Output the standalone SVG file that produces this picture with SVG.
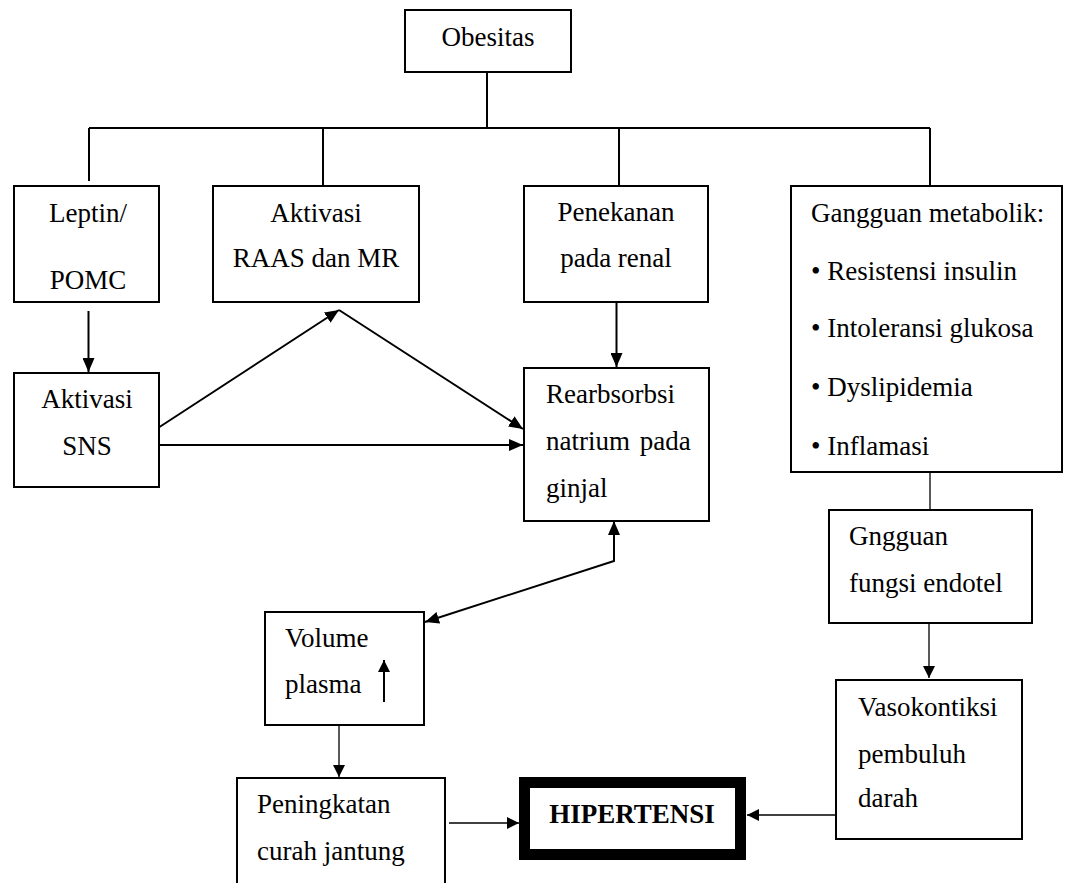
<svg xmlns="http://www.w3.org/2000/svg" width="1065" height="883" viewBox="0 0 1065 883" font-family="'Liberation Serif', serif">
<style>
  .box{fill:#fff;stroke:#000;stroke-width:2}
  .t{font-family:'Liberation Serif', serif;font-size:27px;fill:#000}
  .c{text-anchor:middle}
  .b{font-weight:bold}
  .ln{fill:none;stroke:#000;stroke-width:2}
  .thin{fill:none;stroke:#000;stroke-width:1.3}
</style>
<defs>
  <marker id="ah" markerWidth="14" markerHeight="12" refX="14" refY="6" orient="auto" markerUnits="userSpaceOnUse">
    <path d="M0,0 L14,6 L0,12 z" fill="#000"/>
  </marker>
  <marker id="ahb" markerWidth="14" markerHeight="12" refX="14" refY="6" orient="auto-start-reverse" markerUnits="userSpaceOnUse">
    <path d="M0,0 L14,6 L0,12 z" fill="#000"/>
  </marker>
  <marker id="ahs" markerWidth="12" markerHeight="12" refX="12" refY="6" orient="auto" markerUnits="userSpaceOnUse">
    <path d="M0,0 L12,6 L0,12 z" fill="#000"/>
  </marker>
</defs>
<rect width="1065" height="883" fill="#fff"/>

<g id="connectors">
  <path class="ln" d="M487,72 V128 M89,128 H930 M89,128 V181 M323,128 V186 M619,128 V186 M930,128 V186"/>
  <path class="ln" d="M88.5,311 V372" marker-end="url(#ah)"/>
  <path class="ln" d="M159.5,427 L339,310" marker-end="url(#ah)"/>
  <path class="ln" d="M339,310 L523,429" marker-end="url(#ah)"/>
  <path class="ln" d="M159.5,445 H523" marker-end="url(#ah)"/>
  <path class="ln" d="M616.5,302 V367" marker-end="url(#ah)"/>
  <path class="ln" d="M614,521 V561 L425,622" marker-start="url(#ahb)" marker-end="url(#ahb)"/>
  <path class="thin" d="M930,473 V510"/>
  <path class="thin" d="M929,623 V678" marker-end="url(#ahs)"/>
  <path class="thin" d="M339,725 V777" marker-end="url(#ahs)"/>
  <path class="thin" d="M449,823 H519" marker-end="url(#ahs)"/>
  <path class="thin" d="M836,815 H747" marker-end="url(#ahs)"/>
</g>

<g id="obesitas">
  <rect class="box" x="405" y="10" width="166" height="62"/>
  <text class="t c" x="488" y="46">Obesitas</text>
</g>
<g id="leptin">
  <rect class="box" x="14" y="186" width="145" height="116"/>
  <text class="t c" x="88" y="222">Leptin/</text>
  <text class="t c" x="88" y="289">POMC</text>
</g>
<g id="raas">
  <rect class="box" x="213" y="186" width="206" height="116"/>
  <text class="t c" x="316" y="222">Aktivasi</text>
  <text class="t c" x="316" y="267">RAAS dan MR</text>
</g>
<g id="penekanan">
  <rect class="box" x="524" y="186" width="184" height="116"/>
  <text class="t c" x="616" y="221">Penekanan</text>
  <text class="t c" x="616" y="267">pada renal</text>
</g>
<g id="gangguan">
  <rect class="box" x="791" y="186" width="271" height="286"/>
  <text class="t" x="811" y="222">Gangguan metabolik:</text>
  <text class="t" x="811" y="280">• Resistensi insulin</text>
  <text class="t" x="811" y="337">• Intoleransi glukosa</text>
  <text class="t" x="811" y="396">• Dyslipidemia</text>
  <text class="t" x="811" y="455">• Inflamasi</text>
</g>
<g id="sns">
  <rect class="box" x="14" y="373" width="145" height="114"/>
  <text class="t c" x="87" y="408">Aktivasi</text>
  <text class="t c" x="87" y="455">SNS</text>
</g>
<g id="rearbsorbsi">
  <rect class="box" x="524" y="368" width="185" height="153"/>
  <text class="t" x="546" y="403">Rearbsorbsi</text>
  <text class="t" x="546" y="450" word-spacing="3">natrium pada</text>
  <text class="t" x="546" y="497">ginjal</text>
</g>
<g id="gngguan">
  <rect class="box" x="829" y="510" width="203" height="113"/>
  <text class="t" x="849" y="545">Gngguan</text>
  <text class="t" x="849" y="592">fungsi endotel</text>
</g>
<g id="volume">
  <rect class="box" x="265" y="612" width="159" height="113"/>
  <text class="t" x="285" y="647">Volume</text>
  <text class="t" x="285" y="693">plasma</text>
  <path class="ln" d="M384,702 V660" marker-end="url(#ahs)"/>
</g>
<g id="vasokontiksi">
  <rect class="box" x="836" y="680" width="186" height="159"/>
  <text class="t" x="858" y="716">Vasokontiksi</text>
  <text class="t" x="858" y="763">pembuluh</text>
  <text class="t" x="858" y="807">darah</text>
</g>
<g id="peningkatan">
  <rect class="box" x="237" y="778" width="208" height="120"/>
  <text class="t" x="257" y="813">Peningkatan</text>
  <text class="t" x="257" y="860">curah jantung</text>
</g>
<g id="hipertensi">
  <rect x="524.5" y="782.5" width="216" height="72" fill="#fff" stroke="#000" stroke-width="11"/>
  <text class="t c b" x="632" y="823">HIPERTENSI</text>
</g>
</svg>
